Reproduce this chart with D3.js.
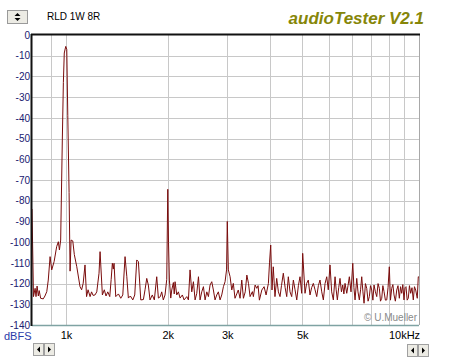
<!DOCTYPE html>
<html><head><meta charset="utf-8">
<script src="https://cdn.jsdelivr.net/npm/d3@7"></script>
<style>
html,body{margin:0;padding:0;background:#fff;}
svg{display:block;}
</style></head>
<body>
<svg id="chart" width="460" height="360"></svg>
<script>
// ---- data ----
const freqHz = [
  793,801,810,815,821,828,833,841,856,866,
  877,886,897,907,922,938,949,956,964,975,
  982,988,998,1005,1012,1021,1028,1035,1047,1058,
  1076,1100,1112,1124,1138,1150,1162,1178,1190,1202,
  1218,1233,1252,1261,1281,1298,1313,1329,1347,1360,
  1371,1380,1387,1403,1429,1452,1472,1495,1513,1529,
  1550,1576,1597,1619,1637,1664,1694,1713,1733,1752,
  1772,1800,1825,1855,1876,1901,1919,1940,1963,1986,
  2000,2010,2022,2041,2055,2078,2090,2102,2126,2150,
  2175,2209,2235,2277,2302,2328,2355,2382,2409,2437,
  2465,2492,2521,2550,2579,2609,2638,2668,2699,2729,
  2760,2792,2823,2856,2889,2922,2955,2985,3000,3022,
  3058,3093,3126,3162,3200,3233,3273,3311,3349,3390,
  3428,3466,3504,3560,3584,3626,3668,3700,3734,3796,
  3855,3908,3970,4000,4033,4069,4104,4152,4201,4250,
  4297,4340,4395,4450,4498,4547,4600,4653,4706,4760,
  4816,4870,4924,4981,5015,5095,5150,5210,5271,5330,
  5392,5455,5518,5580,5643,5710,5773,5840,5908,5970,
  6041,6110,6180,6252,6300,6351,6410,6467,6530,6587,
  6640,6692,6770,6830,6892,6970,7054,7110,7165,7248,
  7310,7377,7440,7498,7560,7617,7690,7758,7830,7897,
  7960,8027,8090,8154,8230,8306,8380,8455,8520,8594,
  8660,8729,8810,8891,8970,9049,9120,9198,9270,9344,
  9430,9518,9600,9688,9770,9845,9920,10000,10070,10137,
  10220,10297,10380,10467,10560,10654,10740,10829,10948,11024,
  11077
];
const levelDb = [
  -84,-126.3,-122.3,-126.3,-121.2,-126,-123.4,-127.1,-127.4,-126,
  -123.9,-118.3,-107,-113.4,-109.4,-102.2,-99.8,-103.8,-99,-50.7,
  -23,-8.7,-5.5,-7,-39,-76,-114,-99,-99.4,-106,
  -111.9,-121.5,-123,-119.8,-111,-126.3,-123,-126.3,-124,-125.7,
  -125.5,-124,-115,-104.6,-125.5,-123,-126,-124,-126.3,-118,
  -110.2,-113,-110.2,-126.3,-125,-127.1,-125.5,-107,-116.7,-127,
  -126,-127.9,-125.5,-108.6,-109.4,-127.9,-127.7,-123,-117.5,-120.7,
  -127.9,-125.5,-127.9,-116.7,-127,-126.3,-124,-127.9,-125.5,-118,
  -74.5,-100,-118.3,-127,-123.1,-119.5,-125,-119.1,-125.5,-124,
  -127,-125.5,-127.9,-126.3,-127.9,-113.4,-124,-119.1,-127.9,-124.7,
  -116.7,-127.9,-124,-121.5,-127.9,-124,-126.3,-120.7,-119.1,-123.1,
  -127.9,-125.5,-124,-127.9,-125.5,-121.5,-119.1,-113.4,-90,-113.4,
  -116.7,-123.1,-119.9,-127.1,-125,-123.1,-127.1,-118.3,-127.1,-124,
  -115.9,-119.9,-126.3,-123.9,-126.3,-120.7,-122.3,-121,-128,-123.1,
  -121.5,-125.5,-119.9,-110,-101.4,-123.1,-111.9,-126.3,-117.5,-124,
  -126.3,-121,-115,-122,-126.3,-116.7,-124,-126.3,-118.3,-123,
  -127.9,-121,-116.7,-124.7,-105.4,-124.7,-120,-118.3,-125.5,-122,
  -119.9,-123,-126.3,-121,-118.3,-124,-127.9,-120,-116.7,-123,
  -111,-124,-127.9,-116.7,-123,-127.9,-122,-117.5,-124,-120.7,
  -125,-119.9,-124.7,-121,-116.7,-124,-110.2,-122,-127.9,-117.5,
  -124,-127.9,-123,-116.7,-124,-129.5,-120,-122.3,-128.5,-126.3,
  -121,-123.1,-128,-120.7,-124,-126.3,-120,-122.3,-128.5,-127.1,
  -121,-123.9,-128,-127.9,-122,-111.9,-128,-122.3,-120.5,-125.5,
  -128.5,-123.1,-121,-127.1,-121.5,-124.7,-120.5,-127.9,-122,-121.5,
  -128,-127.1,-121,-124.7,-122,-127.9,-121.5,-123.1,-127.1,-116.7,
  -117
];
const yTicks = [0,-10,-20,-30,-40,-50,-60,-70,-80,-90,-100,-110,-120,-130,-140];
const xGrid = [900,1000,2000,3000,4000,5000,6000,7000,8000,9000,10000];
const xTicks = [1000,2000,3000,5000,10000];
const xTickLabels = ["1k","2k","3k","5k","10kHz"];
const titleText = "RLD 1W 8R";
const brandText = "audioTester V2.1";
const yUnit = "dBFS";
const copyright = "\u00A9 U.Mueller";

// ---- layout ----
const L = 32, R = 419, T = 35, B = 325;
const svg = d3.select("#chart");
const x = d3.scaleLog().domain([793, 11077]).range([L, R]);
const y = d3.scaleLinear().domain([-140, 0]).range([B, T]);
const FONT = "'Liberation Sans', Arial, sans-serif";

// plot background
svg.append("rect").attr("x", L).attr("y", T).attr("width", R - L).attr("height", B - T).attr("fill", "#fff");

// grid
svg.append("g").selectAll("line").data(yTicks.filter(d => d < 0 && d > -140)).join("line")
  .attr("x1", L).attr("x2", R).attr("y1", d => Math.round(y(d)) + 0.5).attr("y2", d => Math.round(y(d)) + 0.5)
  .attr("stroke", "#c8c8c8").attr("stroke-width", 1);
svg.append("g").selectAll("line").data(xGrid).join("line")
  .attr("x1", d => Math.round(x(d)) + 0.5).attr("x2", d => Math.round(x(d)) + 0.5)
  .attr("y1", T).attr("y2", B)
  .attr("stroke", "#c8c8c8").attr("stroke-width", 1);

// spectrum trace
const data = freqHz.map((f, i) => ({ f, v: levelDb[i] }));
svg.append("path").datum(data)
  .attr("fill", "none").attr("stroke", "#7a0c0c").attr("stroke-width", 1)
  .attr("stroke-linejoin", "round")
  .attr("d", d3.line().x(d => x(d.f)).y(d => y(d.v)));

// frame
svg.append("line").attr("x1", L).attr("x2", R).attr("y1", B + 0.5).attr("y2", B + 0.5).attr("stroke", "#7fa3a3").attr("stroke-width", 1.5);
svg.append("line").attr("x1", R + 0.5).attr("x2", R + 0.5).attr("y1", T).attr("y2", B).attr("stroke", "#a8a8a8").attr("stroke-width", 1);
svg.append("line").attr("x1", L - 1).attr("x2", R + 1).attr("y1", T - 0.5).attr("y2", T - 0.5).attr("stroke", "#111").attr("stroke-width", 2);
svg.append("line").attr("x1", L - 0.5).attr("x2", L - 0.5).attr("y1", T - 1).attr("y2", B + 1).attr("stroke", "#111").attr("stroke-width", 2);

// y axis labels
const yAxis = svg.append("g").attr("transform", `translate(${L},0)`)
  .call(d3.axisLeft(y).tickValues(yTicks).tickSize(0).tickPadding(2).tickFormat(d => String(d)));
yAxis.select(".domain").remove();
yAxis.selectAll("text").attr("fill", "#202070").style("font-family", FONT).style("font-size", "10px");

// x axis labels
const xAxis = svg.append("g").attr("transform", `translate(0,${B})`)
  .call(d3.axisBottom(x).tickValues(xTicks).tickSize(0).tickPadding(6).tickFormat((d, i) => xTickLabels[i]));
xAxis.select(".domain").remove();
xAxis.selectAll("text").attr("fill", "#000").style("font-family", FONT).style("font-size", "11px");

// unit
svg.append("text").attr("x", 4).attr("y", 340).text(yUnit)
  .attr("fill", "#2a3aa8").style("font-family", FONT).style("font-size", "11px");

// title
svg.append("text").attr("x", 47).attr("y", 20).text(titleText)
  .attr("fill", "#000").style("font-family", FONT).style("font-size", "10px");

// brand
svg.append("text").attr("x", 424).attr("y", 24).attr("text-anchor", "end").text(brandText)
  .attr("fill", "#868608").style("font-family", FONT).style("font-size", "17px")
  .style("font-weight", "bold").style("font-style", "italic");

// copyright
svg.append("text").attr("x", 417).attr("y", 321).attr("text-anchor", "end").text(copyright)
  .attr("fill", "#8a8a8a").style("font-family", FONT).style("font-size", "10px");

// spinner button (top-left)
const sp = svg.append("g");
sp.append("rect").attr("x", 7.5).attr("y", 10.5).attr("width", 20).attr("height", 13)
  .attr("fill", "#ecebe4").attr("stroke", "#9a9a9a");
sp.append("path").attr("d", "M14.5,16 L17.5,13 L20.5,16 Z").attr("fill", "#000");
sp.append("path").attr("d", "M14.5,18 L17.5,21 L20.5,18 Z").attr("fill", "#000");

// scroll buttons
function scrollPair(x0, y0) {
  const g = svg.append("g");
  g.append("rect").attr("x", x0 + 0.5).attr("y", y0 + 0.5).attr("width", 10).attr("height", 12)
    .attr("fill", "#ecebe4").attr("stroke", "#a0a0a0");
  g.append("rect").attr("x", x0 + 11.5).attr("y", y0 + 0.5).attr("width", 10).attr("height", 12)
    .attr("fill", "#ecebe4").attr("stroke", "#a0a0a0");
  g.append("path").attr("d", `M${x0 + 4},${y0 + 6.5} L${x0 + 7},${y0 + 3.5} L${x0 + 7},${y0 + 9.5} Z`).attr("fill", "#000");
  g.append("path").attr("d", `M${x0 + 18},${y0 + 6.5} L${x0 + 15},${y0 + 3.5} L${x0 + 15},${y0 + 9.5} Z`).attr("fill", "#000");
}
scrollPair(33, 343);
scrollPair(407, 344);
</script>
</body></html>
